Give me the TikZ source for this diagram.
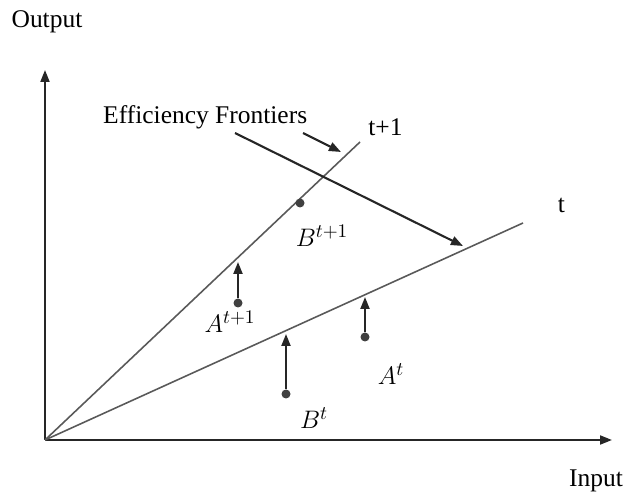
\documentclass[tikz,border=0pt]{standalone}
\usepackage{fontspec}
\setmainfont{Liberation Serif}
\usetikzlibrary{arrows.meta}

\begin{document}
\begin{tikzpicture}[x=0.02cm, y=-0.02cm, every node/.style={font=\fontsize{14.5}{17}\selectfont}, >={Triangle[length=2.4mm, width=1.8mm]}]
	\useasboundingbox (0,0) rectangle (625,492);
	\tikzset{axis/.style={line width=1.1pt, black!85}, frontier/.style={line width=0.9pt, black!65}, move/.style={->, line width=1.2pt, black!85}, pt/.style={circle, fill=black!75, inner sep=0pt, minimum size=1.8mm}, lbl/.style={font=\fontsize{15}{17}\selectfont\itshape}}
	\coordinate (O) at (45,440);
	\coordinate (ytop) at (45,70);
	\coordinate (xend) at (612,440);
	\draw[->, axis] (O) -- (ytop);
	\draw[->, axis] (O) -- (xend);
	\node (output) at (47,22) {Output};
	\node (input) at (596,481) {Input};
	% the two frontiers
	\coordinate (f1) at (360,142);
	\coordinate (f0) at (523,223);
	\draw[frontier] (O) -- (f1) node[above right, xshift=1pt, text=black] (lt1) {t+1};
	\draw[frontier] (O) -- (f0) node[above right, xshift=16pt, yshift=2pt, text=black] (lt0) {t};
	\node[anchor=west] (eff) at (97,117) {Efficiency Frontiers};
	\coordinate (a1s) at (303,133);
	\coordinate (a1e) at (341,152);
	\coordinate (a2s) at (235,133);
	\coordinate (a2e) at (463,246);
	\draw[move] (a1s) -- (a1e);
	\draw[move] (a2s) -- (a2e);
	% points and their moves
	\node[pt] (Bt1) at (300,203) {};
	\node[lbl] at (322,236) {$B^{t+1}$};
	\node[pt] (At1) at (238,303) {};
	\coordinate (At1up) at (238,262);
	\draw[move] (At1) -- (At1up);
	\node[lbl] at (230,322) {$A^{t+1}$};
	\node[pt] (Bt) at (286,394) {};
	\coordinate (Btup) at (286,334);
	\draw[move] (Bt) -- (Btup);
	\node[lbl] at (314,418) {$B^{t}$};
	\node[pt] (At) at (365,337) {};
	\coordinate (Atup) at (365,297);
	\draw[move] (At) -- (Atup);
	\node[lbl] at (391,374) {$A^{t}$};
\end{tikzpicture}
\end{document}
